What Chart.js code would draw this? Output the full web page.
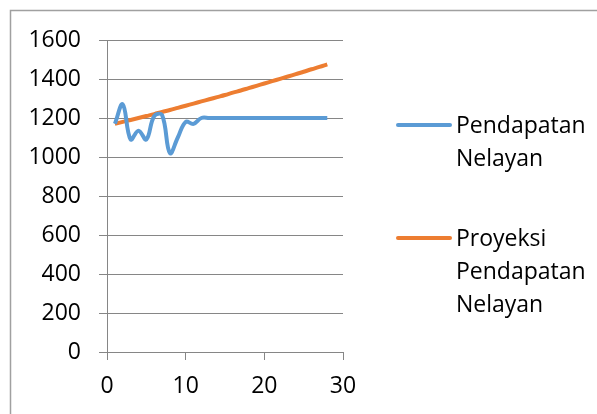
<!DOCTYPE html>
<html lang="id">
<head>
  <meta charset="UTF-8">
  <title>Pendapatan Nelayan</title>
  <script src="https://cdn.jsdelivr.net/npm/chart.js"></script>
  <style>
    body {margin: 0; background: #fff;}
    #chart {display: block;}
  </style>
</head>
<body>
<canvas id="chart" width="597" height="414"></canvas>
<script>
  // data
  const tahun = [1, 2, 3, 4, 5, 6, 7, 8, 9, 10, 11, 12, 13, 14,
                 15, 16, 17, 18, 19, 20, 21, 22, 23, 24, 25, 26, 27, 28];
  const pendapatan = [1170, 1270, 1090, 1135, 1090, 1210, 1215, 1020, 1100, 1180, 1170, 1200, 1200, 1200,
                      1200, 1200, 1200, 1200, 1200, 1200, 1200, 1200, 1200, 1200, 1200, 1200, 1200, 1200];
  const proyeksi = [1170, 1180, 1190, 1200, 1210, 1220, 1231, 1241, 1252, 1263, 1274, 1285, 1296, 1307,
                    1318, 1330, 1341, 1353, 1365, 1377, 1389, 1401, 1413, 1425, 1437, 1450, 1462, 1475];
  const namaSeri = [['Pendapatan', 'Nelayan'], ['Proyeksi', 'Pendapatan', 'Nelayan']];
  const warna = ['#5b9bd5', '#ed7d31'];

  const FONT = "'Open Sans', sans-serif";
  const abu = '#868686';

  // bingkai abu-abu di kiri dan atas
  const bingkai = {
    id: 'bingkai',
    beforeDraw(chart) {
      const ctx = chart.ctx;
      ctx.save();
      ctx.strokeStyle = '#a0a0a0';
      ctx.lineWidth = 1.5;
      ctx.beginPath();
      ctx.moveTo(10.5, 414);
      ctx.lineTo(10.5, 10.5);
      ctx.lineTo(597, 10.5);
      ctx.stroke();
      ctx.restore();
    }
  };

  // legenda dengan teks beberapa baris
  const legenda = {
    id: 'legenda',
    afterDraw(chart) {
      const ctx = chart.ctx;
      const awalY = [125, 238];
      ctx.save();
      ctx.font = '23px ' + FONT;
      ctx.textBaseline = 'middle';
      ctx.fillStyle = '#000';
      chart.data.datasets.forEach((ds, i) => {
        const y = awalY[i];
        ctx.strokeStyle = ds.borderColor;
        ctx.lineWidth = 4;
        ctx.lineCap = 'round';
        ctx.beginPath();
        ctx.moveTo(398, y);
        ctx.lineTo(450, y);
        ctx.stroke();
        namaSeri[i].forEach((baris, j) => {
          ctx.fillText(baris, 456, y + 1 + j * 33);
        });
      });
      ctx.restore();
    }
  };

  new Chart(document.getElementById('chart'), {
    type: 'line',
    data: {
      datasets: [
        {
          label: namaSeri[0].join(' '),
          data: tahun.map((t, i) => ({x: t, y: pendapatan[i]})),
          borderColor: warna[0],
          borderWidth: 4,
          pointRadius: 0,
          tension: 0.4,
          fill: false
        },
        {
          label: namaSeri[1].join(' '),
          data: tahun.map((t, i) => ({x: t, y: proyeksi[i]})),
          borderColor: warna[1],
          borderWidth: 4,
          pointRadius: 0,
          tension: 0.4,
          fill: false
        }
      ]
    },
    options: {
      responsive: false,
      animation: false,
      layout: {padding: {left: 0, right: 254, top: 40, bottom: 0}},
      plugins: {legend: {display: false}, tooltip: {enabled: false}},
      scales: {
        x: {
          type: 'linear',
          min: 0,
          max: 30,
          afterFit: s => { s.height = 62; },
          ticks: {stepSize: 10, color: '#000', font: {family: FONT, size: 23}, padding: 13, maxRotation: 0,
                  callback: v => String(v)},
          grid: {drawOnChartArea: false, drawTicks: true, tickLength: 8, color: abu},
          border: {display: true, color: abu}
        },
        y: {
          min: 0,
          max: 1600,
          afterFit: s => { s.width = 107; },
          ticks: {stepSize: 200, color: '#000', font: {family: FONT, size: 23}, padding: 18,
                  callback: v => String(v)},
          grid: {color: abu, tickLength: 8},
          border: {display: true, color: abu}
        }
      }
    },
    plugins: [bingkai, legenda]
  });
</script>
</body>
</html>
